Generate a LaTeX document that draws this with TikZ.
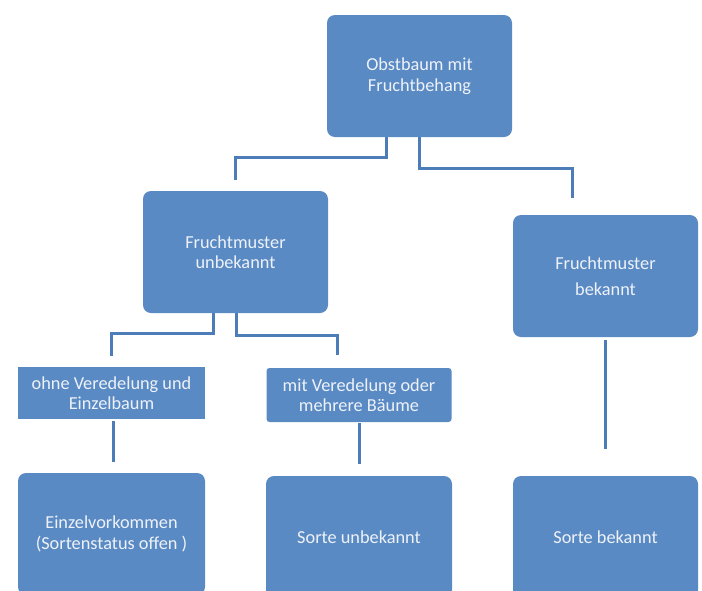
\documentclass[tikz,border=0pt]{standalone}
\usepackage{fontspec}
\setmainfont{Carlito}
\definecolor{boxblue}{HTML}{5A8AC4}
\definecolor{lineblue}{HTML}{4C7DB8}
\definecolor{boxtext}{HTML}{EEF2F8}

\tikzset{
  box/.style={fill=boxblue, text=boxtext, rounded corners=8pt, align=center,
    minimum width=185pt, minimum height=122pt, inner sep=0pt,
    font=\fontsize{18.3}{20.5}\selectfont},
  flatbox/.style={box, minimum height=52pt, rounded corners=0pt},
  link/.style={draw=lineblue, line width=3pt}
}

\begin{document}
\begin{tikzpicture}[x=1pt, y=-1pt]
        \clip (0,0) rectangle (702,590);
        \fill[white] (0,0) rectangle (702,590);
        % Top level
        \node[box] (tree) at (419.5,76) {Obstbaum mit\\Fruchtbehang};
        % Second level
        \node[box] (unknown) at (235.5,252) {Fruchtmuster\\unbekannt};
        \node[box] (known) at (605.5,276) {Fruchtmuster\\[6pt]bekannt};
        % Third level
        \node[flatbox, minimum width=187pt] (single) at (111.5,393) {ohne Veredelung und\\Einzelbaum};
        \node[flatbox, minimum height=54pt, rounded corners=3pt] (grafted) at (359,395) {mit Veredelung oder\\mehrere Bäume};
        % Results
        \node[box, minimum width=187pt] (occur) at (111.5,534) {Einzelvorkommen\\(Sortenstatus offen )};
        \node[box, minimum width=186pt] (varunknown) at (359,537) {Sorte unbekannt};
        \node[box] (varknown) at (605.5,537) {Sorte bekannt};
        % Connectors
        \draw[link] ([xshift=-33.5pt]tree.south) -- ++(0,20) -| ([yshift=11pt]unknown.north);
        \draw[link] (tree.south) -- ++(0,31) -| ([xshift=-33.5pt,yshift=17pt]known.north);
        \draw[link] ([xshift=-22.5pt]unknown.south) -- ++(0,20) -| ([yshift=11pt]single.north);
        \draw[link] ([xshift=0.5pt]unknown.south) -- ++(0,22) -| ([xshift=-22pt,yshift=13pt]grafted.north);
        \draw[link] ([xshift=1.5pt,yshift=-2pt]single.south) -- ([xshift=1.5pt,yshift=11pt]occur.north);
        \draw[link] ([yshift=-1pt]grafted.south) -- ([yshift=12pt]varunknown.north);
        \draw[link] ([yshift=-3pt]known.south) -- ([yshift=27pt]varknown.north);
    \end{tikzpicture}
\end{document}
